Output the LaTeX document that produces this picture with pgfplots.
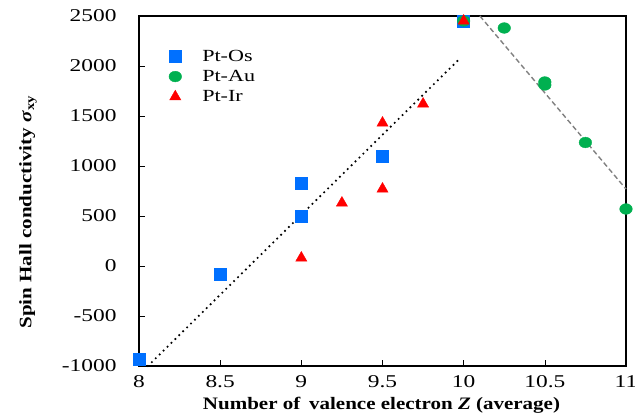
\documentclass[border=0pt]{standalone}
\usepackage{pgfplots}
\pgfplotsset{compat=1.18}
\usepackage{graphicx}
\usepackage{fontspec}
\setmainfont{Liberation Serif}
\definecolor{osblue}{RGB}{0,112,255}
\definecolor{augreen}{RGB}{0,176,80}
\definecolor{irred}{RGB}{255,0,0}
\newcommand\st[1]{\scalebox{1.3}[1]{#1}}
\begin{document}
\begin{tikzpicture}
\useasboundingbox (-139pt,-53pt) rectangle (496pt,366pt);
\begin{axis}[
  at={(0pt,0pt)}, anchor=south west,
  scale only axis, width=487pt, height=350pt,
  xmin=8, xmax=11, ymin=-1000, ymax=2500,
  xtick={8,8.5,...,11}, ytick={-1000,-500,...,2500},
  xticklabels={\st{8},\st{8.5},\st{9},\st{9.5},\st{10},\st{10.5},\st{11}},
  yticklabels={\st{-1000},\st{-500},\st{0},\st{500},\st{1000},\st{1500},\st{2000},\st{2500}},
  tick align=inside, tick pos=left,
  major tick length=6pt,
  tick style={black, line width=0.6pt},
  axis line style={line width=1.6pt},
  ticklabel style={font=\fontsize{18}{18}\selectfont},
  xticklabel style={anchor=center, yshift=-16pt},
  yticklabel style={anchor=east, xshift=-19pt},
  xlabel={\scalebox{1.2}[1]{\textbf{Number of\, valence electron \textit{Z} (average)}}},
  ylabel={\scalebox{1.2}[1]{\textbf{Spin Hall conductivity \textit{σ}\textsubscript{xy}}}},
  label style={font=\fontsize{17.5}{17.5}\selectfont},
  xlabel style={at={(axis description cs:0.498,0)}, anchor=center, yshift=-39pt},
  ylabel style={at={(axis description cs:-0.228,0.44)}, anchor=center},
  legend style={at={(0.055,0.915)}, anchor=north west, draw=none, fill=none,
    font=\fontsize{17}{21}\selectfont, row sep=3.5pt},
  legend cell align=left,
  legend image code/.code={\draw[#1] plot coordinates {(0.3cm,0cm)};},
  clip=false,
]
\addplot[only marks, mark=square*, mark size=6pt, color=osblue] coordinates {
 (8,-930) (8.5,-80) (9,830) (9,500) (9.5,1100) (10,2450)};
\addlegendentry{\hspace{1.1em}\st{Pt-Os}}
\addplot[only marks, mark=*, mark size=6.3pt, color=augreen, mark options={yscale=0.85}] coordinates {
 (10,2450) (10.25,2380) (10.5,1840) (10.5,1810) (10.75,1235) (11,570)};
\addlegendentry{\hspace{1.1em}\st{Pt-Au}}
\addplot[only marks, mark=triangle*, mark size=6.5pt, color=irred] coordinates {
 (9,80) (9.25,630) (9.5,1430) (9.5,770) (9.75,1620) (10,2450)};
\addlegendentry{\hspace{1.1em}\st{Pt-Ir}}
\addplot[black, line width=2.4pt, dash pattern=on 0pt off 5.5pt, line cap=round, forget plot] coordinates {(8.055,-1000) (9.98,2080)};
\addplot[gray, line width=1.4pt, dash pattern=on 5pt off 3pt, forget plot] coordinates {(10.1,2500) (11,770)};
\end{axis}
\end{tikzpicture}
\end{document}
